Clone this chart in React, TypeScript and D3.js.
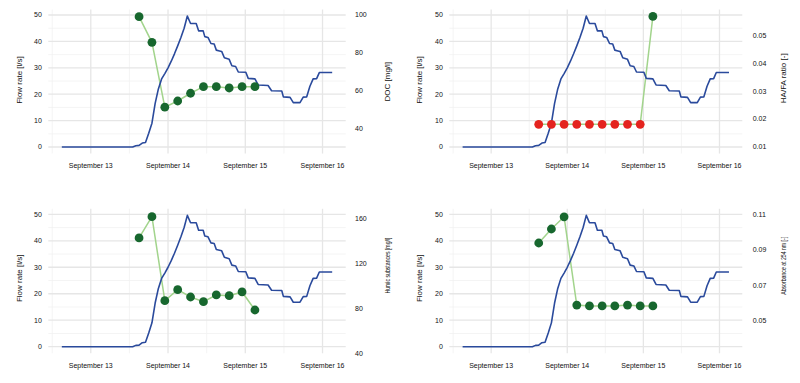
import React from "react";
import * as d3 from "d3";

// ---------- DATA ----------
const flowTimes = [
  "2021-09-12 15:00", "2021-09-13 13:00", "2021-09-13 14:00", "2021-09-13 15:00",
  "2021-09-13 16:00", "2021-09-13 17:00", "2021-09-13 18:00", "2021-09-13 19:00",
  "2021-09-13 20:00", "2021-09-13 21:00", "2021-09-13 22:00", "2021-09-13 23:00",
  "2021-09-14 00:00", "2021-09-14 01:00", "2021-09-14 02:00", "2021-09-14 03:00",
  "2021-09-14 04:00", "2021-09-14 05:00", "2021-09-14 06:00", "2021-09-14 07:00",
  "2021-09-14 08:45", "2021-09-14 09:30", "2021-09-14 10:55", "2021-09-14 11:25",
  "2021-09-14 12:25", "2021-09-14 13:20", "2021-09-14 14:20", "2021-09-14 15:00",
  "2021-09-14 16:00", "2021-09-14 16:40", "2021-09-14 17:30", "2021-09-14 19:00",
  "2021-09-14 19:50", "2021-09-14 21:00", "2021-09-14 21:50", "2021-09-15 00:10",
  "2021-09-15 00:55", "2021-09-15 03:00", "2021-09-15 04:00", "2021-09-15 07:05",
  "2021-09-15 08:10", "2021-09-15 11:20", "2021-09-15 11:50", "2021-09-15 13:55",
  "2021-09-15 14:55", "2021-09-15 17:00", "2021-09-15 18:00", "2021-09-15 19:05",
  "2021-09-15 20:05", "2021-09-15 21:05", "2021-09-15 22:10", "2021-09-15 23:00",
  "2021-09-16 03:00",
];
const flowValues = [
  0, 0, 0.5, 0.6,
  1.5, 1.7, 5.2, 9,
  16.5, 22, 25.8, 27.8,
  30, 32.5, 35.3, 38.3,
  41.5, 45, 49.6, 46.8,
  46.8, 44, 44, 41.8,
  41.5, 39.2, 39, 36.7,
  36.4, 36.2, 33.8, 33.2,
  30.8, 30.5, 28.4, 28.3,
  26, 25.8, 23.5, 23.3,
  21.3, 21.2, 19, 18.8,
  16.8, 16.8, 18.9, 19,
  23, 25.8, 25.9, 28.2,
  28.2,
];

const sampleTimes = [
  "2021-09-13 15:00", "2021-09-13 19:00", "2021-09-13 23:00", "2021-09-14 03:00",
  "2021-09-14 07:00", "2021-09-14 11:00", "2021-09-14 15:00", "2021-09-14 19:00",
  "2021-09-14 23:00", "2021-09-15 03:00",
];
const docValues = [99.1, 85.5, 51.1, 54.4, 58.5, 62.0, 62.0, 61.3, 62.0, 62.0];
const hafaValues = [0.0181, 0.0181, 0.0181, 0.0181, 0.0181, 0.0181, 0.0181, 0.0181, 0.0181, 0.0567];
const hafaBelowLimit = [true, true, true, true, true, true, true, true, true, false];
const humicValues = [143.1, 162.1, 87.2, 97.0, 90.5, 86.3, 92.3, 91.7, 95.0, 78.9];
const absValues = [0.0938, 0.1017, 0.1086, 0.0588, 0.0583, 0.0583, 0.0583, 0.0588, 0.0583, 0.0583];

const flowTicks = [0, 10, 20, 30, 40, 50];
const flowMinorTicks = [5, 15, 25, 35, 45];
const docTicks = [40, 60, 80, 100];
const hafaTicks = [0.01, 0.02, 0.03, 0.04, 0.05];
const humicTicks = [40, 80, 120, 160];
const absTicks = [0.05, 0.07, 0.09, 0.11];
const dateTicks = ["2021-09-13 00:00", "2021-09-14 00:00", "2021-09-15 00:00", "2021-09-16 00:00"];
const dateMinorTicks = ["2021-09-12 12:00", "2021-09-13 12:00", "2021-09-14 12:00", "2021-09-15 12:00"];
const dateTickLabels = ["September 13", "September 14", "September 15", "September 16"];

const flowTitle = "Flow rate [l/s]";

// ---------- STYLE / LAYOUT ----------
const FONT = "'Liberation Sans', Arial, Helvetica, sans-serif";
const BLUE = "#2A4A9C";
const LIGHT_GREEN = "#A2D48C";
const DARK_GREEN = "#17672E";
const RED = "#E4231E";
const TEXT = "#111";

const parse = d3.timeParse("%Y-%m-%d %H:%M");

type PanelCfg = {
  left: number; right: number; y0: number; y50: number;
  rightDomain: [number, number]; rightTicks: number[]; rightFmt: (v: number) => string;
  values: number[]; red?: boolean[];
  title: string; titleLen?: number;
  leftTitleX: number; leftTitleY: number;
  rightTickX: number; rightTitleX: number; rightTitleY: number;
  xLabelY: number;
};

const fmt2 = d3.format(".2f");
const fmt0 = d3.format("d");

const panels: PanelCfg[] = [
  {
    left: 48.3, right: 345.7, y0: 147, y50: 15,
    rightDomain: [30, 100], rightTicks: docTicks, rightFmt: fmt0,
    values: docValues, title: "DOC [mg/l]",
    leftTitleX: 18.7, leftTitleY: 80, rightTickX: 355, rightTitleX: 387.5, rightTitleY: 81.7,
    xLabelY: 168,
  },
  {
    left: 449.3, right: 742.3, y0: 147, y50: 15,
    rightDomain: [0.01, 0.0572], rightTicks: hafaTicks, rightFmt: fmt2,
    values: hafaValues, red: hafaBelowLimit, title: "HA/FA ratio [-]",
    leftTitleX: 418.7, leftTitleY: 80, rightTickX: 752.7, rightTitleX: 782.7, rightTitleY: 78.3,
    xLabelY: 168,
  },
  {
    left: 48.3, right: 345.7, y0: 346.7, y50: 214.3,
    rightDomain: [46.2, 164.2], rightTicks: humicTicks, rightFmt: fmt0,
    values: humicValues, title: "Humic substances [mg/l]", titleLen: 56,
    leftTitleX: 18.7, leftTitleY: 278.3, rightTickX: 355, rightTitleX: 387.5, rightTitleY: 265.5,
    xLabelY: 368,
  },
  {
    left: 449.3, right: 742.3, y0: 346.7, y50: 214.3,
    rightDomain: [0.0353, 0.11], rightTicks: absTicks, rightFmt: fmt2,
    values: absValues, title: "Absorbance at 254 nm [-]", titleLen: 58,
    leftTitleX: 418.7, leftTitleY: 278.3, rightTickX: 752.7, rightTitleX: 782.7, rightTitleY: 265.8,
    xLabelY: 368,
  },
];

const flowData = flowTimes.map((t, i) => ({ t: parse(t) as Date, v: flowValues[i] }));
const sampleDates = sampleTimes.map((t) => parse(t) as Date);

function Panel({ p }: { p: PanelCfg }) {
  const [tMin, tMax] = d3.extent(flowData, (d) => d.t) as [Date, Date];
  const span = +tMax - +tMin;
  const x = d3.scaleTime()
    .domain([new Date(+tMin - span * 0.05), new Date(+tMax + span * 0.05)])
    .range([p.left, p.right]);
  const y = d3.scaleLinear().domain([0, 50]).range([p.y0, p.y50]);
  const fMax = d3.max(flowValues) as number;
  const yTop = y(fMax + fMax * 0.05);
  const yBot = y(-fMax * 0.05);
  const yR = d3.scaleLinear().domain(p.rightDomain).range([p.y0, p.y50]);

  const flowLine = d3.line<{ t: Date; v: number }>().x((d) => x(d.t)).y((d) => y(d.v));
  const samples = sampleDates.map((t, i) => ({ t, v: p.values[i], red: p.red ? p.red[i] : false }));
  const sampleLine = d3.line<{ t: Date; v: number }>().x((d) => x(d.t)).y((d) => yR(d.v));

  return (
    <g>
      {flowMinorTicks.map((v) => (
        <line key={"hm" + v} x1={p.left} x2={p.right} y1={y(v)} y2={y(v)} stroke="#f1f1f1" strokeWidth={0.8} />
      ))}
      {dateMinorTicks.map((d) => {
        const xx = x(parse(d) as Date);
        return <line key={"vm" + d} x1={xx} x2={xx} y1={yTop} y2={yBot} stroke="#f1f1f1" strokeWidth={0.8} />;
      })}
      {flowTicks.map((v) => (
        <line key={"hM" + v} x1={p.left} x2={p.right} y1={y(v)} y2={y(v)} stroke="#e6e6e6" strokeWidth={1.3} />
      ))}
      {dateTicks.map((d) => {
        const xx = x(parse(d) as Date);
        return <line key={"vM" + d} x1={xx} x2={xx} y1={yTop} y2={yBot} stroke="#e6e6e6" strokeWidth={1.3} />;
      })}

      {flowTicks.map((v) => (
        <text key={"lt" + v} x={p.left - 6.5} y={y(v)} dy="0.35em" textAnchor="end" fontSize={7} fill={TEXT} fontFamily={FONT}>
          {v}
        </text>
      ))}
      {p.rightTicks.map((v) => (
        <text key={"rt" + v} x={p.rightTickX} y={yR(v)} dy="0.35em" textAnchor="start" fontSize={7} fill={TEXT} fontFamily={FONT}>
          {p.rightFmt(v)}
        </text>
      ))}
      {dateTicks.map((d, i) => (
        <text key={"xt" + d} x={x(parse(d) as Date)} y={p.xLabelY} textAnchor="middle" fontSize={7} fill={TEXT} fontFamily={FONT}>
          {dateTickLabels[i]}
        </text>
      ))}
      <text transform={`translate(${p.leftTitleX},${p.leftTitleY}) rotate(-90)`} textAnchor="middle" dy="0.35em"
        fontSize={8} fill={TEXT} fontFamily={FONT}>{flowTitle}</text>
      <text transform={`translate(${p.rightTitleX},${p.rightTitleY}) rotate(-90)`} textAnchor="middle" dy="0.35em"
        fontSize={8} fill={TEXT} fontFamily={FONT}
        {...(p.titleLen ? { textLength: p.titleLen, lengthAdjust: "spacingAndGlyphs" } : {})}>{p.title}</text>

      <path d={sampleLine(samples) || ""} fill="none" stroke={LIGHT_GREEN} strokeWidth={1.5} />
      <path d={flowLine(flowData) || ""} fill="none" stroke={BLUE} strokeWidth={1.6} strokeLinejoin="round" />
      {samples.map((s, i) => (
        <circle key={"pt" + i} cx={x(s.t)} cy={yR(s.v)} r={4.4} fill={s.red ? RED : DARK_GREEN} />
      ))}
    </g>
  );
}

export default function App() {
  return (
    <svg width={800} height={383} style={{ position: "fixed", left: 0, top: 0, background: "#fff" }}>
      <rect width={800} height={383} fill="#fff" />
      {panels.map((p, i) => (
        <Panel key={i} p={p} />
      ))}
    </svg>
  );
}
